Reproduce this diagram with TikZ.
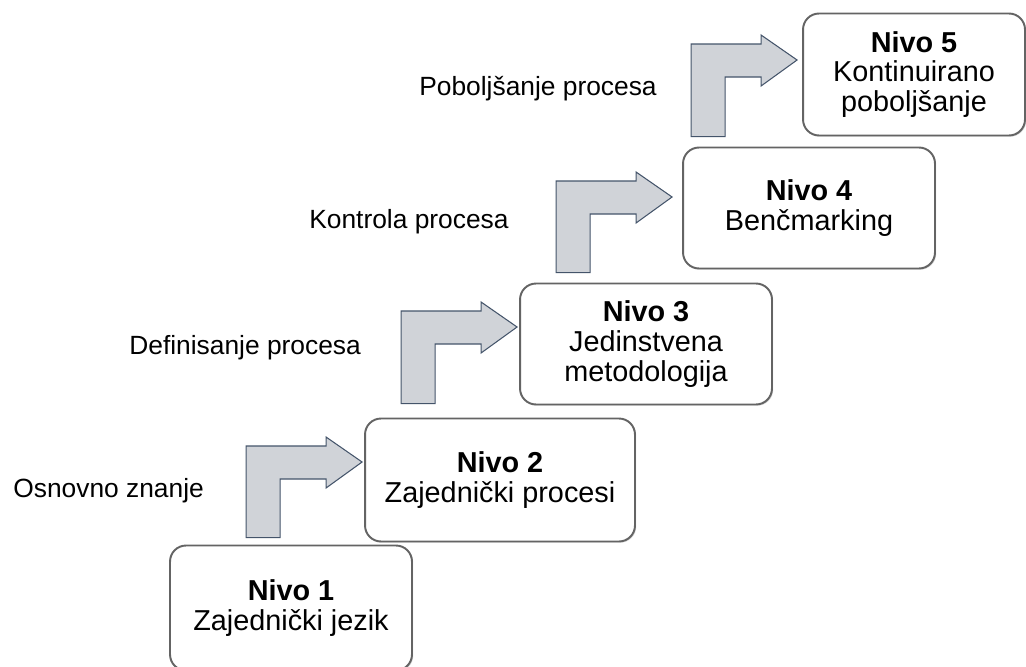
\documentclass[tikz,border=0pt]{standalone}
\usepackage{fontspec}
\setmainfont{Liberation Sans}
\usetikzlibrary{calc,shadows}
\definecolor{arrowfill}{RGB}{208,211,216}
\definecolor{arrowedge}{RGB}{68,84,106}
\definecolor{boxedge}{RGB}{100,100,100}

% bent block arrow: tip, stem bottom, bar length
\newcommand{\steparrow}[3][80]{%
  \draw[steparrow] (#2) -- ++(-36,-25) -- ++(0,9) -- ++(-#1,0) coordinate (sl)
    -- (sl |- #3) -- ++(34,0) |- ($(#2)+(-36,17)$) -- ++(0,9) -- cycle;
}

\begin{document}
\begin{tikzpicture}[
  x=0.02cm, y=-0.02cm,
  level/.style={
    draw=boxedge,
    fill=white,
    rounded corners=0.32cm,
    line width=1.1pt,
    inner sep=0pt,
    align=center,
    font=\fontsize{16.4}{17}\selectfont,
    drop shadow={opacity=0.3, shadow xshift=0.7pt, shadow yshift=-0.7pt}
  },
  stage/.style={
    anchor=base west,
    inner sep=0pt,
    font=\fontsize{15}{18}\selectfont
  },
  steparrow/.style={
    fill=arrowfill,
    draw=arrowedge,
    line width=0.6pt,
    line join=miter
  }
]
  \useasboundingbox (0,0) rectangle (1026,666);

  % Levels
  \node[level, minimum width=4.84cm, minimum height=2.5cm] (n1) at (291,608)
    {\textbf{Nivo 1}\\Zajednički jezik};
  \node[level, minimum width=5.40cm, minimum height=2.46cm] (n2) at (500,480)
    {\textbf{Nivo 2}\\Zajednički procesi};
  \node[level, minimum width=5.04cm, minimum height=2.42cm] (n3) at (646,344)
    {\textbf{Nivo 3}\\Jedinstvena\\metodologija};
  \node[level, minimum width=5.04cm, minimum height=2.42cm] (n4) at (809,208)
    {\textbf{Nivo 4}\\Benčmarking};
  \node[level, minimum width=4.44cm, minimum height=2.44cm] (n5) at (914,74.5)
    {\textbf{Nivo 5}\\Kontinuirano\\poboljšanje};

  % Stage labels
  \node[stage] (l1) at (13,497) {Osnovno znanje};
  \node[stage] (l2) at (129,354) {Definisanje procesa};
  \node[stage] (l3) at (309,228) {Kontrola procesa};
  \node[stage] (l4) at (419,95) {Poboljšanje procesa};

  % Step arrows between levels
  \coordinate (t1) at ($(n2.west |- 0,462)+(-2,0)$);
  \coordinate (b1) at ($(n1.north)+(0,-7)$);
  \coordinate (t2) at ($(n3.west |- 0,327)+(-2,0)$);
  \coordinate (b2) at ($(n2.north)+(0,-14)$);
  \coordinate (t3) at ($(n4.west |- 0,197)+(-10,0)$);
  \coordinate (b3) at ($(n3.north)+(0,-10)$);
  \coordinate (t4) at ($(n5.west |- 0,60)+(-5,0)$);
  \coordinate (b4) at ($(n4.north)+(0,-10)$);

  \steparrow{t1}{b1}
  \steparrow{t2}{b2}
  \steparrow{t3}{b3}
  \steparrow[70]{t4}{b4}

\end{tikzpicture}
\end{document}
